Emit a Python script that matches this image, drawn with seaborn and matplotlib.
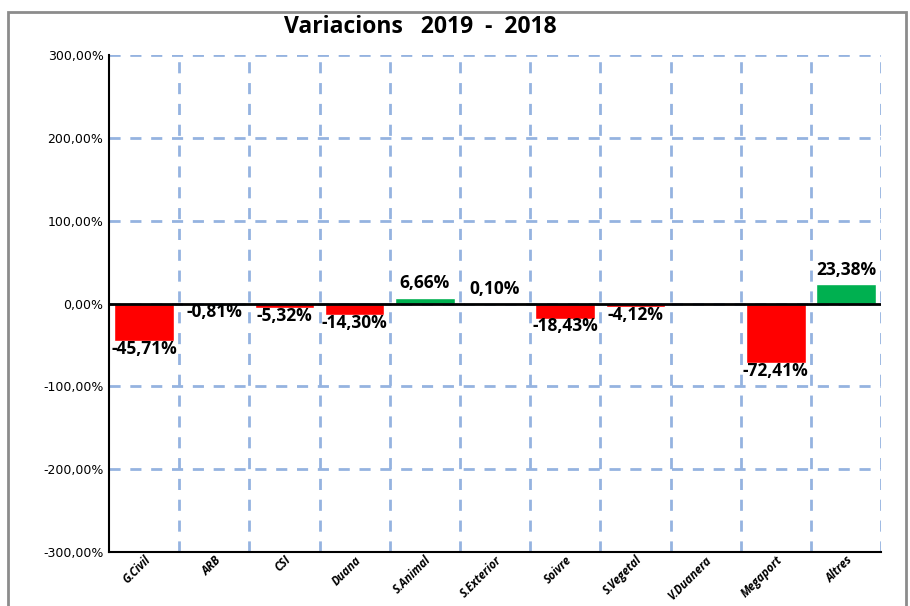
import numpy as np
import pandas as pd
import matplotlib
matplotlib.use("Agg")
import matplotlib.pyplot as plt
import seaborn as sns
from matplotlib.patches import Rectangle
from matplotlib.ticker import FuncFormatter, MultipleLocator

# data
categories = ["G.Civil", "ARB", "CSI", "Duana", "S.Animal", "S.Exterior",
              "Soivre", "S.Vegetal", "V.Duanera", "Megaport", "Altres"]
variation = [-45.71, -0.81, -5.32, -14.30, 6.66, 0.10,
             -18.43, -4.12, 0.0, -72.41, 23.38]
labels = ["-45,71%", "-0,81%", "-5,32%", "-14,30%", "6,66%", "0,10%",
          "-18,43%", "-4,12%", "", "-72,41%", "23,38%"]

df = pd.DataFrame({"cat": categories, "val": variation})
df["sign"] = np.where(df["val"] < 0, "neg", "pos")

sns.set_style("white")
plt.rcParams["font.family"] = ["Open Sans", "DejaVu Sans"]
plt.rcParams["text.color"] = "black"
plt.rcParams["xtick.color"] = "black"
plt.rcParams["ytick.color"] = "black"

fig = plt.figure(figsize=(9.1, 6.06), dpi=100)
ax = fig.add_axes([0.1198, 0.0891, 0.8484, 0.8201])

sns.barplot(data=df, x="cat", y="val", hue="sign",
            palette={"neg": "#FF0000", "pos": "#00B050"}, saturation=1,
            dodge=False, legend=False, width=0.85, ax=ax)

ax.set_ylim(-300, 300)
ax.set_xlim(-0.5, len(categories) - 0.5)
ax.yaxis.set_major_locator(MultipleLocator(100))
ax.yaxis.set_major_formatter(FuncFormatter(lambda v, p: f"{v:.2f}%".replace(".", ",")))
ax.set_xticks(np.arange(len(categories)) + 0.5, minor=True)

grid_kw = dict(color="#95B3E0", linewidth=2, linestyle=(0, (4, 3.5)))
ax.grid(False)
ax.yaxis.grid(True, which="major", **grid_kw)
ax.xaxis.grid(True, which="minor", **grid_kw)
ax.set_axisbelow(True)
ax.axhline(0, color="black", linewidth=2, zorder=3)

for s in ["top", "right"]:
    ax.spines[s].set_visible(False)
for s in ["left", "bottom"]:
    ax.spines[s].set_color("black")
    ax.spines[s].set_linewidth(1.5)

ax.set_xlabel("")
ax.set_ylabel("")
ax.tick_params(axis="both", which="both", length=0)
ax.tick_params(axis="y", labelsize=9, pad=4)
ax.tick_params(axis="x", pad=1)
for t in ax.get_yticklabels():
    t.set_fontfamily("DejaVu Sans")
ax.set_xticks(np.arange(len(categories)))
ax.set_xticklabels(categories, rotation=45, ha="right", rotation_mode="anchor",
                   fontsize=8.3, fontweight="bold", fontstyle="italic")

for i, (v, lab) in enumerate(zip(variation, labels)):
    if not lab:
        continue
    if v < 0:
        ax.annotate(lab, (i, v), xytext=(0, 1), textcoords="offset points",
                    ha="center", va="top", fontsize=12.5, fontweight="bold")
    else:
        ax.annotate(lab, (i, v), xytext=(0, 4), textcoords="offset points",
                    ha="center", va="bottom", fontsize=12.5, fontweight="bold")

fig.text(420 / 910, 1 - 27 / 606, "Variacions   2019  -  2018", ha="center", va="center",
         fontsize=16.5, fontweight="bold")

# outer frame of the chart area
fig.patches.append(Rectangle((8 / 910, -0.05), 898 / 910, 1.05 - 12 / 606,
                             transform=fig.transFigure, fill=False,
                             edgecolor="#8C8C8C", linewidth=2))

fig.savefig("out.png", dpi=100)
